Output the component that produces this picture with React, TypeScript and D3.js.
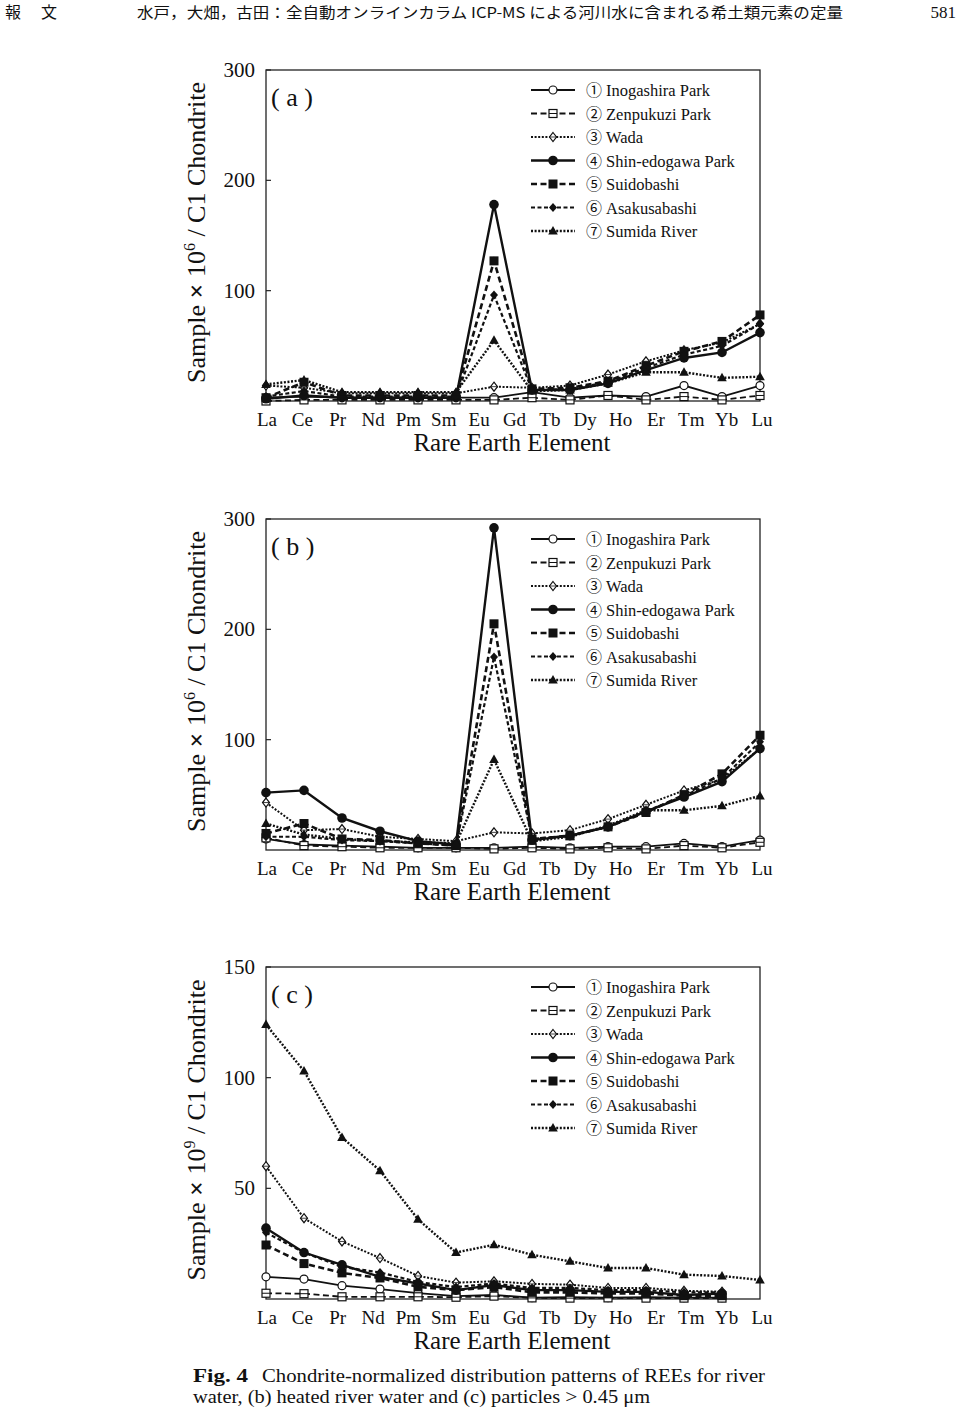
import React from "react";
import * as d3 from "d3";

// ---- axis labels ----
const elementLabels = ["La","Ce","Pr","Nd","Pm","Sm","Eu","Gd","Tb","Dy","Ho","Er","Tm","Yb","Lu"];
const pointSlots = d3.range(14); // plotted positions (14 slots)

const seriesNames = ["Inogashira Park","Zenpukuzi Park","Wada","Shin-edogawa Park","Suidobashi","Asakusabashi","Sumida River"];
const circledNums = ["①","②","③","④","⑤","⑥","⑦"];

// ---- panel (a) river water ----
const aIno    = [3, 4, 3, 3, 3, 3, 3, 8, 3, 5, 4, 14, 4, 14];
const aZen    = [0, 1, 1, 1, 1, 1, 1, 3, 1, 5, 1, 4, 1, 5];
const aWada   = [14, 12, 7, 7, 7, 7, 13, 12, 14, 24, 36, 46, 53, 70];
const aShin   = [2, 5, 3, 3, 3, 3, 178, 10, 10, 16, 28, 39, 44, 62];
const aSuido  = [3, 17, 5, 5, 5, 5, 127, 11, 12, 18, 32, 45, 54, 78];
const aAsaku  = [4, 9, 4, 4, 4, 4, 96, 10, 11, 17, 30, 42, 50, 70];
const aSumida = [15, 19, 8, 8, 8, 8, 55, 9, 10, 16, 26, 26, 21, 22];

// ---- panel (b) heated river water ----
const bIno    = [10, 5, 4, 3, 2, 2, 2, 3, 2, 3, 3, 6, 3, 9];
const bZen    = [11, 4, 3, 2, 2, 2, 1, 2, 1, 2, 1, 4, 2, 7];
const bWada   = [43, 18, 19, 12, 10, 8, 16, 15, 18, 28, 41, 54, 64, 92];
const bShin   = [52, 54, 29, 17, 8, 5, 292, 9, 13, 21, 35, 48, 62, 92];
const bSuido  = [15, 24, 10, 9, 6, 4, 205, 10, 13, 21, 34, 50, 69, 104];
const bAsaku  = [12, 12, 9, 8, 6, 4, 175, 10, 13, 21, 35, 49, 65, 98];
const bSumida = [24, 14, 10, 8, 7, 6, 82, 8, 12, 22, 36, 36, 40, 49];

// ---- panel (c) particles > 0.45 um ----
const cIno    = [10, 9, 6, 4.5, 2.7, 1.3, 1.8, 0.6, 0.8, 0.6, 0.8, 0.6, 0.6];
const cZen    = [2.6, 2.4, 1, 1, 1, 0.8, 1.3, 0.5, 0.4, 0.5, 0.4, 0.4, 0.4];
const cWada   = [60, 36.5, 26, 18.5, 10.4, 7.4, 8, 6.8, 6.5, 5, 5, 3.7, 3.3];
const cShin   = [32, 21, 15.4, 10, 7, 4, 6.3, 4, 4, 3.2, 3.2, 1.8, 2.5];
const cSuido  = [24.4, 16, 11.8, 9.5, 5.5, 4, 5.4, 3, 3, 2.5, 2.5, 1.5, 1.5];
const cAsaku  = [30, 21, 14.5, 12, 7.7, 5.4, 7, 5, 5, 4, 4, 3, 3];
const cSumida = [124, 103, 73, 58, 36, 21, 24.5, 20, 17, 14, 14, 11, 10.4, 8.6];

const yTicksAB = [100, 200, 300];
const yTicksC = [50, 100, 150];

type Style = { dash: string | null; width: number; marker: string };
const styles: Style[] = [
  { dash: null, width: 1.8, marker: "openCircle" },
  { dash: "6,3.5", width: 1.8, marker: "openSquare" },
  { dash: "2,1.6", width: 2.0, marker: "openDiamond" },
  { dash: null, width: 2.4, marker: "filledCircle" },
  { dash: "6,3.5", width: 2.6, marker: "filledSquare" },
  { dash: "4,2.5", width: 2.2, marker: "filledDiamond" },
  { dash: "2,1.6", width: 2.4, marker: "filledTriangle" },
];

const panels = [
  { id: "a", top: 70, bottom: 401, yMax: 300, ticks: yTicksAB, exp: "6",
    data: [aIno, aZen, aWada, aShin, aSuido, aAsaku, aSumida] },
  { id: "b", top: 519, bottom: 850, yMax: 300, ticks: yTicksAB, exp: "6",
    data: [bIno, bZen, bWada, bShin, bSuido, bAsaku, bSumida] },
  { id: "c", top: 967, bottom: 1299, yMax: 150, ticks: yTicksC, exp: "9",
    data: [cIno, cZen, cWada, cShin, cSuido, cAsaku, cSumida] },
];

const LEFT = 266, RIGHT = 760;
const SERIF = "'Liberation Serif', 'DejaVu Serif', serif";
const CJK = "'Noto Sans CJK JP', sans-serif";

function Marker({ type, x, y }: { type: string; x: number; y: number }) {
  const sw = 1.2;
  switch (type) {
    case "openCircle":
      return <circle cx={x} cy={y} r={4} fill="#fff" stroke="#111" strokeWidth={sw} />;
    case "openSquare":
      return (
        <g>
          <rect x={x - 4} y={y - 4} width={8} height={8} fill="#fff" stroke="#111" strokeWidth={sw} />
          <line x1={x - 4} x2={x + 4} y1={y} y2={y} stroke="#111" strokeWidth={1} />
        </g>
      );
    case "openDiamond":
      return (
        <g>
          <path d={`M${x},${y - 4.5}L${x + 3.5},${y}L${x},${y + 4.5}L${x - 3.5},${y}Z`} fill="#fff" stroke="#111" strokeWidth={sw} />
          <line x1={x - 3.5} x2={x + 3.5} y1={y} y2={y} stroke="#111" strokeWidth={0.8} />
        </g>
      );
    case "filledCircle":
      return <circle cx={x} cy={y} r={4.8} fill="#111" />;
    case "filledSquare":
      return <rect x={x - 4.5} y={y - 4.5} width={9} height={9} fill="#111" />;
    case "filledDiamond":
      return <path d={`M${x},${y - 4.5}L${x + 4},${y}L${x},${y + 4.5}L${x - 4},${y}Z`} fill="#111" />;
    case "filledTriangle":
      return <path d={`M${x},${y - 5}L${x + 4.8},${y + 3.5}L${x - 4.8},${y + 3.5}Z`} fill="#111" />;
  }
  return null;
}

function Panel({ p }: { p: typeof panels[number] }) {
  const x = d3.scalePoint<number>().domain(pointSlots).range([LEFT, RIGHT]);
  const xl = d3.scalePoint<string>().domain(elementLabels).range([267, 762]);
  const y = d3.scaleLinear().domain([0, p.yMax]).range([p.bottom, p.top]);
  const line = d3.line<number>()
    .defined((d) => d !== undefined && d !== null)
    .x((_, i) => x(i) as number)
    .y((d) => y(d));
  const mid = (p.top + p.bottom) / 2 - 3;
  return (
    <g>
      {/* frame */}
      <rect x={LEFT} y={p.top} width={RIGHT - LEFT} height={p.bottom - p.top} fill="none" stroke="#222" strokeWidth={1.3} />
      {/* ticks */}
      {p.ticks.map((t) => (
        <g key={t}>
          <line x1={LEFT} x2={LEFT + 5} y1={y(t)} y2={y(t)} stroke="#222" strokeWidth={1.2} />
          <text x={255} y={y(t) + 7} textAnchor="end" fontFamily={SERIF} fontSize={21} fill="#111">{t}</text>
        </g>
      ))}
      {/* y title */}
      <text transform={`translate(205,${mid}) rotate(-90)`} textAnchor="middle" fontFamily={SERIF} fontSize={26} fill="#111">
        Sample <tspan fontWeight="bold">×</tspan> 10<tspan fontSize={16} dy={-10}>{p.exp}</tspan><tspan dy={10}> / C1 Chondrite</tspan>
      </text>
      {/* x labels */}
      {elementLabels.map((e) => (
        <text key={e} x={xl(e)} y={p.bottom + 25} textAnchor="middle" fontFamily={SERIF} fontSize={19} fill="#111">{e}</text>
      ))}
      <text x={512} y={p.bottom + 50} textAnchor="middle" fontFamily={SERIF} fontSize={25} fill="#111">Rare Earth Element</text>
      {/* panel label */}
      <text x={271} y={p.top + 36} fontFamily={SERIF} fontSize={26} fill="#111">( {p.id} )</text>
      {/* series */}
      {p.data.map((vals, si) => (
        <g key={si}>
          <path d={line(vals) || ""} fill="none" stroke="#111" strokeWidth={styles[si].width}
            strokeDasharray={styles[si].dash || undefined} />
          {vals.map((v, i) => (
            <Marker key={i} type={styles[si].marker} x={x(i) as number} y={y(v)} />
          ))}
        </g>
      ))}
      {/* legend */}
      {seriesNames.map((n, si) => {
        const ly = p.top + 20 + si * 23.5;
        return (
          <g key={n}>
            <line x1={531} x2={575} y1={ly} y2={ly} stroke="#111" strokeWidth={styles[si].width}
              strokeDasharray={styles[si].dash || undefined} />
            <Marker type={styles[si].marker} x={553} y={ly} />
            <text x={586} y={ly + 6} fontFamily={CJK} fontSize={16} fill="#111">{circledNums[si]}</text>
            <text x={606} y={ly + 6} fontFamily={SERIF} fontSize={16.5} fill="#111">{n}</text>
          </g>
        );
      })}
    </g>
  );
}

export default function App() {
  return (
    <svg width={960} height={1411} viewBox="0 0 960 1411"
      style={{ position: "absolute", left: 0, top: 0, background: "#fff" }}>
      <rect width={960} height={1411} fill="#fff" />
      {/* header */}
      <text x={5} y={18} fontFamily={CJK} fontSize={16} fill="#111">報</text>
      <text x={41} y={18} fontFamily={CJK} fontSize={16} fill="#111">文</text>
      <text x={137} y={18} fontFamily={CJK} fontSize={15} fill="#111" textLength={706} lengthAdjust="spacingAndGlyphs">
        水戸，大畑，古田：全自動オンラインカラム ICP-MS による河川水に含まれる希土類元素の定量
      </text>
      <text x={956} y={18} textAnchor="end" fontFamily={SERIF} fontSize={17} fill="#111">581</text>
      {panels.map((p) => <Panel key={p.id} p={p} />)}
      {/* caption */}
      <text x={193} y={1382} fontFamily={SERIF} fontSize={18} fontWeight="bold" fill="#111" textLength={55} lengthAdjust="spacingAndGlyphs">Fig. 4</text>
      <text x={262} y={1382} fontFamily={SERIF} fontSize={18} fill="#111" textLength={503} lengthAdjust="spacingAndGlyphs">
        Chondrite-normalized distribution patterns of REEs for river
      </text>
      <text x={193} y={1403} fontFamily={SERIF} fontSize={18} fill="#111" textLength={457} lengthAdjust="spacingAndGlyphs">
        water, (b) heated river water and (c) particles <tspan fontSize={19}>&gt;</tspan> 0.45 μm
      </text>
    </svg>
  );
}
